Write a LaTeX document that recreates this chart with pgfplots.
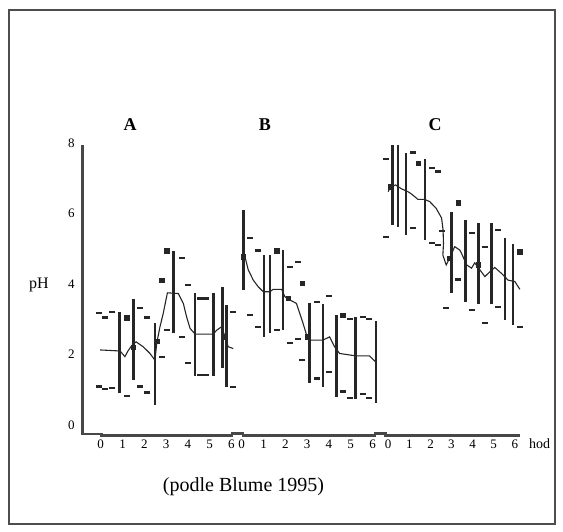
\documentclass[border=0pt]{standalone}
\usepackage{fontspec}
\setmainfont{Liberation Serif}
\usepackage{pgfplots}
\usepackage{pgfplotstable}
\pgfplotsset{compat=1.18}
\definecolor{ink}{HTML}{262626}
\definecolor{framegray}{HTML}{4D4D4D}

% panel A: mean curve, bars (lo hi), dash marks, squares
\pgfplotstableread{
t y
-0.03 2.13
0.89 2.10
1.11 1.94
1.25 2.10
1.42 2.25
1.62 2.36
1.95 2.22
2.26 2.03
2.49 1.84
2.57 2.32
2.72 2.79
2.87 3.17
3.06 3.75
3.56 3.73
3.79 3.45
3.94 3.07
4.10 2.74
4.33 2.58
5.17 2.58
5.32 2.69
5.55 2.79
5.70 2.50
5.85 2.22
6.08 2.17
}\meanA
\pgfplotstableread{
t lo hi
0.86 0.90 3.20
1.50 1.28 3.57
2.49 0.57 2.89
3.33 2.60 4.95
4.33 1.40 3.74
5.17 1.40 3.74
5.58 1.61 3.92
5.78 1.09 3.40
}\barsA
\pgfplotstableread{
t y
-0.06 3.17
0.20 3.05
0.53 3.21
-0.06 1.09
0.20 1.02
0.53 1.04
1.19 0.83
1.80 3.31
2.14 3.05
1.80 1.09
2.14 0.92
2.80 1.94
3.03 2.70
3.71 4.73
3.99 3.97
3.71 2.50
3.99 1.75
4.55 3.59
4.85 3.59
4.55 1.43
4.85 1.43
6.08 3.21
6.08 1.07
}\dashA
\pgfplotstableread{
t y
1.19 3.04
2.80 4.11
3.03 4.95
2.57 2.38
5.63 2.50
1.50 2.20
}\sqA

% panel B
\pgfplotstableread{
t y
0.15 4.77
0.30 4.40
0.53 4.11
0.76 3.92
0.99 3.78
1.29 3.78
1.44 3.85
1.83 3.85
1.98 3.64
2.20 3.55
2.51 3.45
2.66 3.17
2.81 2.89
3.00 2.50
3.12 2.41
3.73 2.41
4.03 2.50
4.26 2.22
4.49 2.03
5.25 1.96
5.86 1.96
6.13 1.80
}\meanB
\pgfplotstableread{
t lo hi
0.07 3.83 6.10
1.03 2.50 4.82
1.29 2.60 4.82
1.90 2.70 4.96
3.12 1.20 3.47
3.73 1.09 3.42
4.34 0.80 3.12
5.22 0.75 3.07
6.16 0.62 2.95
}\barsB
\pgfplotstableread{
t y
0.38 5.30
0.76 4.95
2.20 4.49
2.58 4.63
0.38 3.12
0.76 2.79
1.60 2.70
2.20 2.32
2.58 2.43
2.78 1.84
3.45 3.50
4.00 3.66
3.45 1.32
4.00 1.51
4.95 3.00
5.55 3.07
5.86 3.00
4.64 0.95
4.95 0.76
5.55 0.88
5.86 0.76
}\dashB
\pgfplotstableread{
t y
0.07 4.77
1.60 4.95
2.78 4.02
4.64 3.12
2.13 3.60
3.00 2.50
}\sqB

% panel C
\pgfplotstableread{
t y
0.00 6.62
0.11 6.76
0.35 6.81
0.63 6.70
0.93 6.62
1.11 6.55
1.41 6.40
1.72 6.40
1.96 6.34
2.27 6.15
2.53 5.87
2.60 5.53
2.62 5.15
2.59 4.82
2.75 4.54
2.91 4.73
3.15 5.06
3.40 4.96
3.55 4.77
3.72 4.54
3.95 4.45
4.10 4.60
4.35 4.40
4.58 4.21
4.82 4.35
5.05 4.47
5.37 4.30
5.68 4.11
6.00 4.07
6.24 3.85
}\meanC
\pgfplotstableread{
t lo hi
0.21 5.67 7.94
0.47 5.63 7.94
0.84 5.39 7.71
1.74 5.25 7.54
3.00 3.74 6.05
3.67 3.50 5.82
4.27 3.43 5.74
4.90 3.43 5.74
5.53 2.98 5.30
5.92 2.84 5.13
}\barsC
\pgfplotstableread{
t y
-0.11 7.54
-0.11 5.34
1.16 7.73
2.06 7.28
2.37 7.19
1.16 5.58
2.06 5.17
2.37 5.10
2.55 5.50
2.74 3.31
3.32 4.13
3.95 5.44
3.95 3.26
4.58 5.06
4.58 2.90
5.20 5.53
5.20 3.34
6.24 2.77
}\dashC
\pgfplotstableread{
t y
1.42 7.42
3.32 6.31
6.24 4.92
0.11 6.76
2.91 4.73
4.27 4.55
}\sqC

\begin{document}
\begin{tikzpicture}[x=1pt,y=1pt]
\useasboundingbox (0,0) rectangle (563,531);
\draw[framegray, line width=1.8pt] (9,7) rectangle (555,521);
\begin{axis}[
  at={(82.7pt,95.4pt)}, anchor=south west,
  scale only axis, width=438.7pt, height=292.6pt,
  xmin=-0.826, xmax=19.3, ymin=-0.30, ymax=8,
  axis line style={draw=none},
  major tick length=0pt,
  ytick={0,2,4,6,8},
  xtick={0,1,2,3,4,5,6,6.47,7.47,8.47,9.47,10.47,11.47,12.47,13.19,14.16,15.13,16.09,17.06,18.03,19.0},
  xticklabels={0,1,2,3,4,5,6,0,1,2,3,4,5,6,0,1,2,3,4,5,6},
  tick label style={font=\fontsize{13}{15}\selectfont, inner sep=0pt},
  /pgf/number format/assume math mode=true,
  yticklabel style={xshift=-8pt},
  xticklabel style={yshift=-4pt},
  clip=false,
]
% axis lines with the small steps between the panels
\addplot[black!72, line width=2.7pt, line join=miter] coordinates {
  (-0.826,7.94) (-0.826,-0.255) (0.03,-0.255) (0.03,-0.30) (6.02,-0.30)
  (6.02,-0.245) (6.53,-0.245) (6.53,-0.30) (12.58,-0.30)
  (12.58,-0.245) (13.08,-0.245) (13.08,-0.30) (19.23,-0.30)};

% A
\addplot[draw=none, forget plot, error bars/.cd, y dir=plus, y explicit, error mark=none,
  error bar style={line width=2.6pt, ink}]
  table[x=t, y=lo, y error expr=\thisrow{hi}-\thisrow{lo}] {\barsA};
\addplot[ink, line width=1.1pt] table[x=t, y=y] {\meanA};
\addplot[only marks, mark=-, mark size=3pt, mark options={line width=2.2pt, ink}] table[x=t, y=y] {\dashA};
\addplot[only marks, mark=square*, mark size=2.2pt, ink] table[x=t, y=y] {\sqA};

% B
\addplot[draw=none, forget plot, error bars/.cd, y dir=plus, y explicit, error mark=none,
  error bar style={line width=2.6pt, ink}]
  table[x expr=\thisrow{t}+6.47, y=lo, y error expr=\thisrow{hi}-\thisrow{lo}] {\barsB};
\addplot[ink, line width=1.1pt] table[x expr=\thisrow{t}+6.47, y=y] {\meanB};
\addplot[only marks, mark=-, mark size=3pt, mark options={line width=2.2pt, ink}] table[x expr=\thisrow{t}+6.47, y=y] {\dashB};
\addplot[only marks, mark=square*, mark size=2.2pt, ink] table[x expr=\thisrow{t}+6.47, y=y] {\sqB};

% C
\addplot[draw=none, forget plot, error bars/.cd, y dir=plus, y explicit, error mark=none,
  error bar style={line width=2.6pt, ink}]
  table[x expr=0.968*\thisrow{t}+13.19, y=lo, y error expr=\thisrow{hi}-\thisrow{lo}] {\barsC};
\addplot[ink, line width=1.1pt] table[x expr=0.968*\thisrow{t}+13.19, y=y] {\meanC};
\addplot[only marks, mark=-, mark size=3pt, mark options={line width=2.2pt, ink}] table[x expr=0.968*\thisrow{t}+13.19, y=y] {\dashC};
\addplot[only marks, mark=square*, mark size=2.2pt, ink] table[x expr=0.968*\thisrow{t}+13.19, y=y] {\sqC};
\end{axis}
\node[font=\fontsize{16}{18}\selectfont] at (39,246) {pH};
\node[font=\fontsize{14}{16}\selectfont, anchor=north west, inner sep=0pt] at (529,92) {hod};
\node[font=\bfseries\fontsize{18}{20}\selectfont] at (130,406) {A};
\node[font=\bfseries\fontsize{18}{20}\selectfont] at (265,406) {B};
\node[font=\bfseries\fontsize{18}{20}\selectfont] at (435,406) {C};
\node[font=\fontsize{20}{23}\selectfont] at (243.5,44) {(podle Blume 1995)};
\end{tikzpicture}
\end{document}
